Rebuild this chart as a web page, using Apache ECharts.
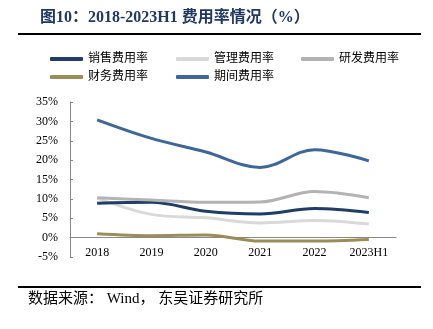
<!DOCTYPE html>
<html><head><meta charset="utf-8">
<script src="https://cdn.jsdelivr.net/npm/echarts@6/dist/echarts.min.js"></script>
<style>html,body{margin:0;padding:0;background:#fff}#c{width:433px;height:329px}</style>
</head><body><div id="c"></div>
<script>
var categories = ['2018','2019','2020','2021','2022','2023H1'];
var sales   = [8.9, 9.1, 6.8, 6.1, 7.5, 6.5];
var admin   = [10.2, 6.0, 5.1, 3.8, 4.4, 3.5];
var rd      = [10.3, 9.7, 9.1, 9.2, 11.9, 10.3];
var finance = [1.0, 0.5, 0.7, -0.9, -0.9, -0.5];
var period  = [30.4, 25.6, 22.1, 18.1, 22.7, 19.8];
var yTicks = {min: -5, max: 35, interval: 5};

var font = '"Liberation Serif", "Noto Sans CJK SC", serif';
var names = ['销售费用率','管理费用率','研发费用率','财务费用率','期间费用率'];
var colors = ['#1F3D66','#D9D9D9','#B3B3B3','#9C8C58','#3D679A'];
var datas = [sales, admin, rd, finance, period];

var chart = echarts.init(document.getElementById('c'));
function legendAt(left, data){
  return {left: left, top: 53, orient: 'vertical', itemGap: 6, itemWidth: 33, itemHeight: 4,
    icon: 'roundRect', data: data, textStyle: {fontFamily: font, fontSize: 12, color: '#000'}, padding: 0};
}
chart.setOption({
  animation: false,
  color: colors,
  graphic: [
    {type:'text', left: 40, top: 10, style:{text:'图10：2018-2023H1 费用率情况（%）', font:'bold 16px ' + font, fill:'#1F3864'}},
    {type:'rect', shape:{x:18, y:33, width:403, height:2}, style:{fill:'#000'}},
    {type:'rect', shape:{x:18, y:286, width:403, height:2}, style:{fill:'#000'}},
    {type:'text', left: 28, top: 292, style:{text:'数据来源： Wind， 东吴证券研究所', font:'15px ' + font, fill:'#000'}}
  ],
  legend: [
    legendAt(50, ['销售费用率','财务费用率']),
    legendAt(176, ['管理费用率','期间费用率']),
    legendAt(301, ['研发费用率'])
  ],
  grid: {left: 70, right: 37, top: 102, bottom: 72},
  xAxis: {type: 'category', data: categories, boundaryGap: true,
    axisLine: {lineStyle: {color: '#888'}},
    axisTick: {inside: true, length: 4, lineStyle: {color: '#888'}},
    axisLabel: {fontFamily: font, fontSize: 12, color: '#000', margin: -10}},
  yAxis: {type: 'value', min: yTicks.min, max: yTicks.max, interval: yTicks.interval,
    axisLine: {show: true, lineStyle: {color: '#888'}},
    axisTick: {show: true, inside: true, length: 3, lineStyle: {color: '#888'}},
    splitLine: {show: false},
    axisLabel: {formatter: '{value}%', fontFamily: font, fontSize: 12, color: '#000', margin: 12}},
  series: names.map(function(n, i){
    return {name: n, type: 'line', data: datas[i], smooth: 0.35, showSymbol: false, symbol: 'none',
      lineStyle: {width: 3, color: colors[i]}, z: i === 1 ? 1 : 2};
  })
});
</script></body></html>
